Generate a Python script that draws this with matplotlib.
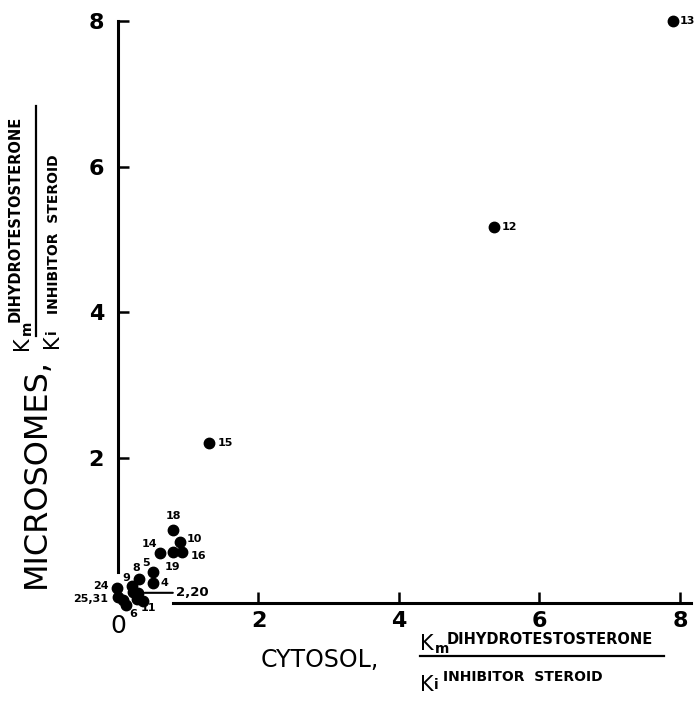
"""
Microsomes vs cytosol Km/Ki scatter (steroid inhibitors)
"""

import matplotlib
matplotlib.use("Agg")
import matplotlib.pyplot as plt
from matplotlib.lines import Line2D

W, H = 695, 708

# data: cytosol Km/Ki (x), microsomes Km/Ki (y), compound labels
cytosol = [7.90, 5.35, 1.30, 0.79, 0.88, 0.91, 0.78, 0.60, 0.50, 0.50,
           0.30, 0.20, 0.21, 0.28, 0.36, 0.27, -0.01, 0.00, 0.07, 0.12]
microsomes = [8.00, 5.17, 2.20, 1.00, 0.84, 0.70, 0.70, 0.69, 0.43, 0.28,
              0.33, 0.23, 0.15, 0.14, 0.03, 0.06, 0.21, 0.08, 0.04, -0.03]
labels = ["13", "12", "15", "18", "10", "16", "19", "14", "5", "4",
          "8", "9", "", "2,20", "11", "", "24", "25,31", "", "6"]
# label offsets in points (dx, dy) and horizontal alignment
label_pos = {
    "13": (5, 0, "left"), "12": (6, 0, "left"), "15": (6, 0, "left"),
    "18": (0, 10, "center"), "10": (5, 2, "left"), "16": (6, -3, "left"),
    "19": (0, -11, "center"), "14": (-8, 6, "center"), "5": (-5, 6, "center"),
    "4": (8, 0, "center"), "8": (-2, 8, "center"), "9": (-4, 6, "center"),
    "11": (4, -5, "center"), "24": (-6, 1, "right"), "25,31": (-7, -1, "right"),
    "6": (5, -6, "center"),
}

x_ticks = [2, 4, 6, 8]
y_ticks = [2, 4, 6, 8]

# pixel -> data mapping (origin at px (118, 603))
X0, Y0, SX, SY = 118, 603, 70.25, 72.75


def fx(px):
    return px / W


def fy(py):
    return 1 - py / H


def main():
    fig = plt.figure(figsize=(W / 100, H / 100), dpi=100)
    ax = fig.add_axes([0, 0, 1, 1])
    ax.set_xlim(-X0 / SX, (W - X0) / SX)
    ax.set_ylim((Y0 - H) / SY, Y0 / SY)
    ax.patch.set_visible(False)

    # spines: broken axes through origin
    for s in ["top", "right"]:
        ax.spines[s].set_visible(False)
    ax.spines["left"].set_position(("data", 0))
    ax.spines["bottom"].set_position(("data", 0))
    ax.spines["left"].set_bounds(0.42, 8)
    ax.spines["bottom"].set_bounds(0.78, 8.15)
    ax.spines["left"].set_linewidth(2.2)
    ax.spines["bottom"].set_linewidth(2.2)

    ax.set_xticks(x_ticks)
    ax.set_yticks(y_ticks)
    ax.tick_params(direction="in", length=8, width=1.8, labelsize=16)
    ax.tick_params(axis="x", pad=6)
    ax.tick_params(axis="y", pad=10)
    for t in ax.get_xticklabels() + ax.get_yticklabels():
        t.set_fontweight("bold")

    ax.plot(cytosol, microsomes, "o", color="black", markersize=7.5,
            clip_on=False, zorder=3)

    for x, y, lab in zip(cytosol, microsomes, labels):
        if not lab or lab == "2,20":
            continue
        dx, dy, ha = label_pos[lab]
        ax.annotate(lab, (x, y), xytext=(dx, dy), textcoords="offset points",
                    ha=ha, va="center", fontsize=8, fontweight="bold")

    # 2,20 label with leader line
    i = labels.index("2,20")
    ax.annotate("2,20", (cytosol[i] + 0.1, microsomes[i]),
                xytext=(0.82, microsomes[i]), textcoords="data",
                ha="left", va="center", fontsize=9.5, fontweight="bold",
                arrowprops=dict(arrowstyle="-", color="black", lw=1.5,
                                shrinkA=0, shrinkB=0))

    # origin zero
    fig.text(fx(118), fy(626), "0", ha="center", va="center",
             fontsize=18)

    # x-axis label
    fig.text(fx(320), fy(660), "CYTOSOL,", ha="center", va="center",
             fontsize=17)
    fig.text(fx(420), fy(644), "K", ha="left", va="center", fontsize=15)
    fig.text(fx(435), fy(649), "m", ha="left", va="center", fontsize=10,
             fontweight="bold")
    fig.text(fx(447), fy(639), "DIHYDROTESTOSTERONE", ha="left",
             va="center", fontsize=10.5, fontweight="bold")
    fig.add_artist(Line2D([fx(420), fx(664)], [fy(656), fy(656)],
                          color="black", lw=1.6))
    fig.text(fx(420), fy(685), "K", ha="left", va="center", fontsize=15)
    fig.text(fx(434), fy(685), "i", ha="left", va="center", fontsize=10,
             fontweight="bold")
    fig.text(fx(443), fy(677), "INHIBITOR  STEROID", ha="left",
             va="center", fontsize=10, fontweight="bold")

    # y-axis label (rotated)
    fig.text(fx(36), fy(473), "MICROSOMES,", ha="center", va="center",
             rotation=90, fontsize=23)
    fig.text(fx(22), fy(350), "K", ha="center", va="bottom", rotation=90,
             fontsize=15)
    fig.text(fx(27), fy(335), "m", ha="center", va="bottom", rotation=90,
             fontsize=10, fontweight="bold")
    fig.text(fx(15), fy(322), "DIHYDROTESTOSTERONE", ha="center",
             va="bottom", rotation=90, fontsize=10.5, fontweight="bold")
    fig.add_artist(Line2D([fx(36), fx(36)], [fy(336), fy(106)],
                          color="black", lw=1.6))
    fig.text(fx(52), fy(348), "K", ha="center", va="bottom", rotation=90,
             fontsize=15)
    fig.text(fx(52), fy(334), "i", ha="center", va="bottom", rotation=90,
             fontsize=10, fontweight="bold")
    fig.text(fx(54), fy(314), "INHIBITOR  STEROID", ha="center",
             va="bottom", rotation=90, fontsize=10, fontweight="bold")

    fig.savefig("out.png", dpi=100)
    plt.close(fig)


if __name__ == "__main__":
    main()
